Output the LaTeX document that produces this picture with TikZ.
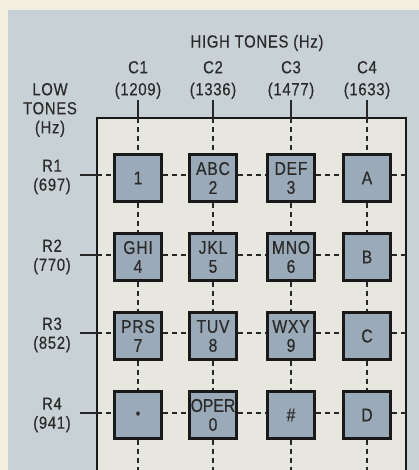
\documentclass[tikz,border=0pt]{standalone}
\usepackage{fontspec}
\setmainfont{Liberation Sans}[FakeStretch=0.85,FakeBold=0.4,LetterSpace=4]
\definecolor{cream}{HTML}{F2EEE0}
\definecolor{panel}{HTML}{C8D2D6}
\definecolor{inner}{HTML}{E7E7E0}
\definecolor{keyfill}{HTML}{9AAAB8}
\definecolor{ink}{HTML}{2A2A2A}
\begin{document}
\begin{tikzpicture}[x=1pt,y=-1pt,
  keybox/.style={draw=black!90,fill=keyfill,line width=2.4pt,minimum width=47pt,minimum height=47pt,inner sep=0pt,align=center,font=\fontsize{18.5}{19}\selectfont,text=ink},
  lbl/.style={align=center,font=\fontsize{17.5}{19}\selectfont,text=ink},
  clbl/.style={align=center,font=\fontsize{17.5}{22}\selectfont,text=ink},
  solidline/.style={line width=1.4pt,draw=black!85},
  dashline/.style={line width=1.4pt,draw=black!85,dash pattern=on 5pt off 4pt}]
\useasboundingbox (0,0) rectangle (419,470);
\fill[cream] (0,0) rectangle (419,470);
\fill[panel] (8,10) rectangle (419,470);
\fill[inner] (97,118) rectangle (406,470);
\draw[line width=2.2pt,black!90] (97,475) -- (97,118) -- (406,118) -- (406,475);
% labels
\node[lbl] (high) at (257,43) {HIGH TONES (Hz)};
\node[lbl] (low) at (50,110) {LOW\\TONES\\(Hz)};
\foreach \i/\x/\f in {1/138/1209,2/213/1336,3/291/1477,4/367/1633}{
  \node[clbl] (c\i) at (\x,80) {C\i\\(\f)};
  \coordinate (ct\i) at (\x,100);
  \coordinate (cb\i) at (\x,118);
  \coordinate (ce\i) at (\x,470);
}
\foreach \j/\y/\f in {1/177/697,2/257/770,3/335/852,4/415/941}{
  \node[lbl] (r\j) at (52,\y) {R\j\\(\f)};
}
\foreach \j/\y in {1/175,2/255,3/333,4/413}{
  \coordinate (rl\j) at (80,\y);
  \coordinate (rb\j) at (97,\y);
  \coordinate (re\j) at (406,\y);
}
% keys
\node[keybox] (k11) at (138,178) {1};
\node[keybox] (k12) at (213,178) {ABC\\2};
\node[keybox] (k13) at (291,178) {DEF\\3};
\node[keybox] (k14) at (367,178) {A};
\node[keybox] (k21) at (138,257) {GHI\\4};
\node[keybox] (k22) at (213,257) {JKL\\5};
\node[keybox] (k23) at (291,257) {MNO\\6};
\node[keybox] (k24) at (367,257) {B};
\node[keybox] (k31) at (138,336) {PRS\\7};
\node[keybox] (k32) at (213,336) {TUV\\8};
\node[keybox] (k33) at (291,336) {WXY\\9};
\node[keybox] (k34) at (367,336) {C};
\node[keybox] (k41) at (138,415) {{\fontsize{15}{15}\selectfont •}};
\node[keybox] (k42) at (213,415) {\addfontfeature{LetterSpace=0}OPER\\0};
\node[keybox] (k43) at (291,415) {\#};
\node[keybox] (k44) at (367,415) {D};
% column lines
\foreach \i in {1,2,3,4}{
  \draw[solidline] (ct\i) -- (cb\i);
  \draw[dashline] (cb\i) -- (k1\i.north);
  \draw[dashline] (k1\i.south) -- (k2\i.north);
  \draw[dashline] (k2\i.south) -- (k3\i.north);
  \draw[dashline] (k3\i.south) -- (k4\i.north);
  \draw[dashline] (k4\i.south) -- (ce\i);
}
% row lines
\foreach \j in {1,2,3,4}{
  \draw[solidline] (rl\j) -- (rb\j);
  \draw[dashline] (rb\j) -- (k\j1.west |- rb\j);
  \draw[dashline] (k\j1.east |- rb\j) -- (k\j2.west |- rb\j);
  \draw[dashline] (k\j2.east |- rb\j) -- (k\j3.west |- rb\j);
  \draw[dashline] (k\j3.east |- rb\j) -- (k\j4.west |- rb\j);
  \draw[dashline] (k\j4.east |- rb\j) -- (re\j);
}
\end{tikzpicture}
\end{document}
